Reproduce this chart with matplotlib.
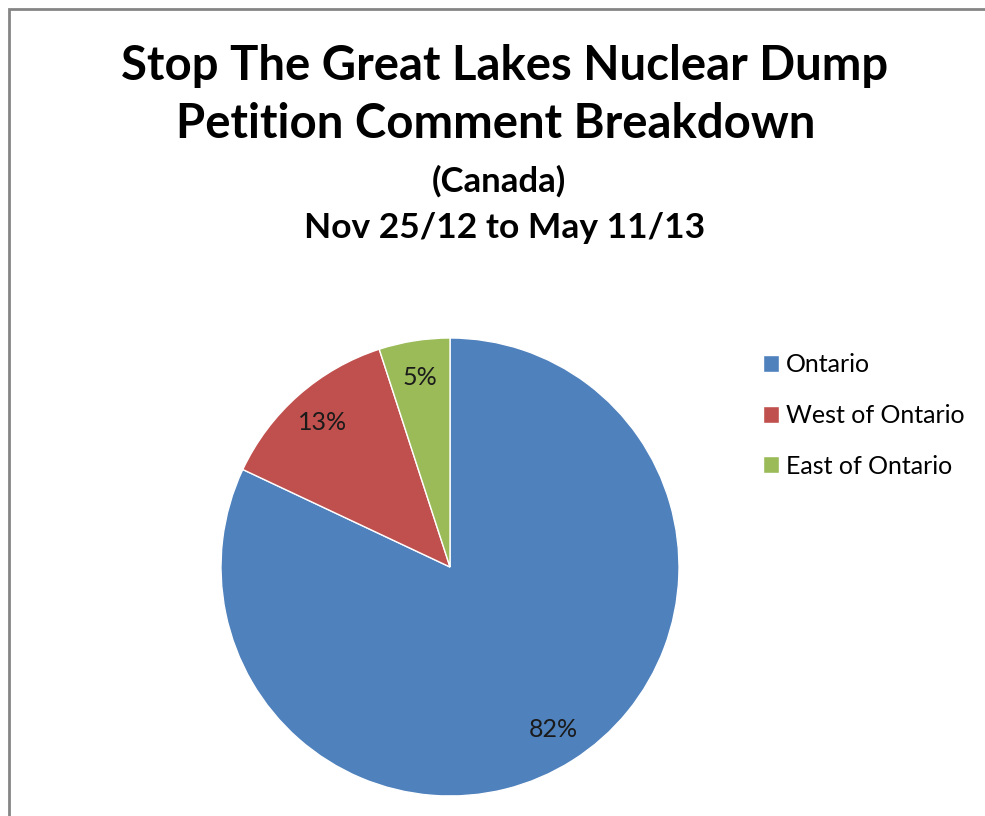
import matplotlib
matplotlib.use("Agg")
import matplotlib.pyplot as plt
from matplotlib.patches import Rectangle

# Data
regions = ["Ontario", "West of Ontario", "East of Ontario"]
shares = [82, 13, 5]
colours = ["#4F81BD", "#C0504D", "#9BBB59"]

title_lines = ["Stop The Great Lakes Nuclear Dump", "Petition Comment Breakdown"]
subtitle = "(Canada)"
period = "Nov 25/12 to May 11/13"

plt.rcParams['font.family'] = ['Lato', 'DejaVu Sans']

W, H = 985, 816
fig = plt.figure(figsize=(W / 100, H / 100), dpi=100)

# chart border (left and top visible, the rest is cropped)
fig.patches.append(Rectangle((8.5 / W, -0.1), 1.2, 1 - 8.5 / H + 0.1,
                             transform=fig.transFigure, fill=False,
                             edgecolor="#858585", linewidth=2))

# pie
cx, cy, r = 450, 567, 229
ax = fig.add_axes([(cx - r) / W, (H - cy - r) / H, 2 * r / W, 2 * r / H])
wedges, texts, autotexts = ax.pie(shares, colors=colours, startangle=90,
                                  counterclock=False, autopct="%d%%",
                                  pctdistance=0.84, radius=1,
                                  wedgeprops=dict(edgecolor="white", linewidth=1),
                                  textprops=dict(fontsize=18, color="#1a1a1a"))
ax.set_xlim(-1, 1)
ax.set_ylim(-1, 1)
ax.set_aspect("equal")
ax.axis("off")

# titles
fig.text(505 / W, 1 - 66 / H, title_lines[0], ha="center", va="center",
         fontsize=34, fontweight="bold")
fig.text(496 / W, 1 - 124 / H, title_lines[1], ha="center", va="center",
         fontsize=34, fontweight="bold")
fig.text(499 / W, 1 - 181 / H, subtitle, ha="center", va="center",
         fontsize=25, fontweight="bold")
fig.text(505 / W, 1 - 228 / H, period, ha="center", va="center",
         fontsize=25.5, fontweight="bold")

# legend
fig.legend(wedges, regions, loc="upper left",
           bbox_to_anchor=(740 / W, 1 - 331 / H), frameon=False,
           fontsize=18, handlelength=0.65, handleheight=0.65,
           handletextpad=0.3, labelspacing=1.1)

fig.savefig("out.png", dpi=100)
